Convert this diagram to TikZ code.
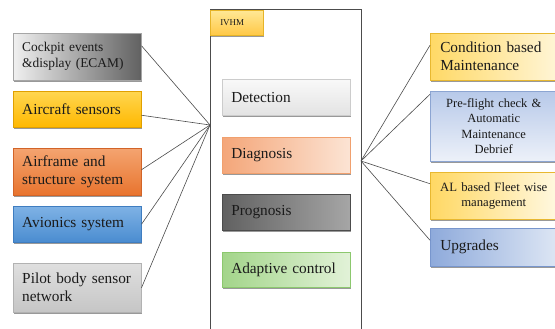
\documentclass[tikz,border=0pt]{standalone}
\usepackage{fontspec}
\setmainfont{Liberation Serif}
\usetikzlibrary{shadows}
\definecolor{txt}{HTML}{1A1A1A}
\begin{document}
\begin{tikzpicture}[x=1pt,y=-1pt,
  box/.style={line width=0.5pt, anchor=north west, inner xsep=9pt, inner ysep=2pt,
    text=txt, font=\fontsize{15.3}{18}\selectfont,
    drop shadow={shadow xshift=0.6pt,shadow yshift=-1.6pt,fill=black,opacity=0.4}},
  lbox/.style={box, text width=110pt, align=left},
  cbox/.style={box, inner xsep=4pt, text width=119pt, align=center},
  conn/.style={draw=black!70, line width=0.6pt}]
\useasboundingbox (0,0) rectangle (555,329);
\fill[white] (0,0) rectangle (555,329);
\clip (0,0) rectangle (555,329);

% left boxes
\node[lbox, draw=gray!70, minimum height=47pt, left color=gray!12, right color=black!62,
  font=\fontsize{13.4}{16}\selectfont] (cock) at (13,33) {Cockpit events\\\&display (ECAM)};
\node[lbox, minimum height=36pt, top color={rgb,255:red,255;green,214;blue,80}, bottom color={rgb,255:red,255;green,184;blue,0}, draw={rgb,255:red,224;green,160;blue,0}] (sens) at (13,91) {Aircraft sensors};
\node[lbox, minimum height=47pt, top color={rgb,255:red,244;green,164;blue,112}, bottom color={rgb,255:red,232;green,116;blue,46}, draw={rgb,255:red,210;green,100;blue,40}] (airf) at (13,148) {Airframe and\\structure system};
\node[lbox, minimum height=36pt, top color={rgb,255:red,127;green,178;blue,229}, bottom color={rgb,255:red,74;green,140;blue,208}, draw={rgb,255:red,63;green,125;blue,192}] (avio) at (13,206) {Avionics system};
\node[lbox, draw=gray!60, minimum height=49pt, top color=gray!25, bottom color=gray!45] (pilot) at (13,263) {Pilot body sensor\\network};

% IVHM frame
\draw[gray!60!black, line width=1pt] (210,345) -- (210,10) -- (361,10) -- (361,345);
\node[box, draw={rgb,255:red,230;green,180;blue,40}, minimum width=53pt, minimum height=25pt, inner xsep=10pt, text width=33pt, align=left,
  font=\fontsize{9}{10}\selectfont, top color={rgb,255:red,255;green,232;blue,150}, bottom color={rgb,255:red,255;green,200;blue,70}] (ivhm) at (210,10) {IVHM};

\node[lbox, draw=gray!40, minimum height=36pt, top color=gray!5, bottom color=gray!22] (det) at (222,79) {Detection};
\node[lbox, draw={rgb,255:red,240;green,160;blue,110}, minimum height=36pt, left color={rgb,255:red,244;green,166;blue,121}, right color={rgb,255:red,252;green,228;blue,212}] (diag) at (222,137) {Diagnosis};
\node[lbox, draw=gray!60!black, minimum height=36pt, left color=black!62, right color=black!35] (prog) at (222,194) {Prognosis};
\node[lbox, draw={rgb,255:red,140;green,200;blue,110}, minimum height=35pt, left color={rgb,255:red,163;green,213;blue,138}, right color={rgb,255:red,226;green,242;blue,216}] (adapt) at (222,252) {Adaptive control};

% right boxes
\node[lbox, draw={rgb,255:red,232;green,184;blue,48}, inner xsep=10pt, text width=107pt, minimum height=47pt, left color={rgb,255:red,255;green,217;blue,102}, right color={rgb,255:red,255;green,245;blue,214}] (cond) at (430,33) {Condition based\\Maintenance};
\node[cbox, draw={rgb,255:red,140;green,165;blue,210}, minimum height=70pt, font=\fontsize{12.5}{15.5}\selectfont, top color={rgb,255:red,183;green,201;blue,233}, bottom color={rgb,255:red,237;green,241;blue,249}] (pre) at (430,91) {Pre-flight check \&\\Automatic\\Maintenance\\Debrief};
\node[cbox, draw={rgb,255:red,232;green,184;blue,48}, minimum height=47pt, font=\fontsize{12.7}{15.5}\selectfont, left color={rgb,255:red,255;green,216;blue,99}, right color={rgb,255:red,255;green,248;blue,224}] (alb) at (430,172) {AL based Fleet wise\\management};
\node[lbox, draw={rgb,255:red,120;green,150;blue,205}, inner xsep=10pt, text width=107pt, minimum height=38pt, left color={rgb,255:red,142;green,170;blue,219}, right color={rgb,255:red,221;green,230;blue,244}] (upg) at (430,228) {Upgrades};

% connectors
\coordinate (L) at (210,125);
\coordinate (R) at (361,161);
\draw[conn] ([yshift=11pt]cock.east) -- (L);
\draw[conn] ([yshift=-6pt]sens.east) -- (L);
\draw[conn] ([yshift=2pt]airf.east) -- (L);
\draw[conn] (avio.east) -- (L);
\draw[conn] (pilot.east) -- (L);
\draw[conn] (R) -- ([yshift=11.5pt]cond.west);
\draw[conn] (R) -- ([yshift=32pt]pre.west);
\draw[conn] (R) -- ([yshift=12pt]alb.west);
\draw[conn] (R) -- ([yshift=7pt]upg.west);
\end{tikzpicture}
\end{document}
